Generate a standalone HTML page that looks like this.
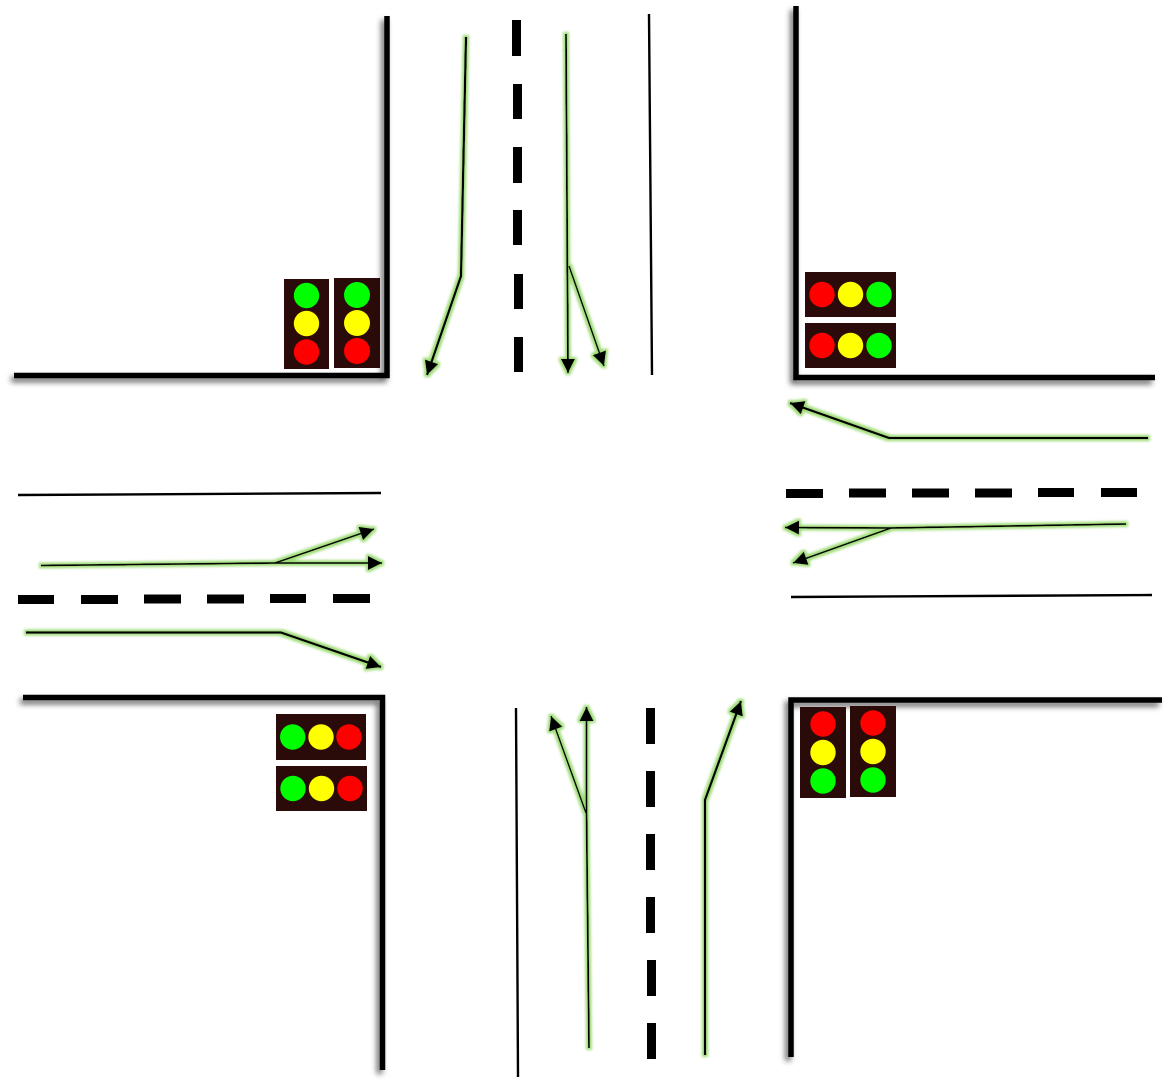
<!DOCTYPE html>
<html lang="en">
<head>
<meta charset="utf-8">
<title>Intersection traffic diagram</title>
<style>
html,body{margin:0;padding:0;background:#fff;width:1168px;height:1085px;overflow:hidden}
svg{display:block}
</style>
</head>
<body>
<svg xmlns="http://www.w3.org/2000/svg" width="1168" height="1085" viewBox="0 0 1168 1085">
<defs>
<filter id="glow" x="0" y="0" width="1168" height="1085" filterUnits="userSpaceOnUse" primitiveUnits="userSpaceOnUse">
  <feMorphology in="SourceAlpha" operator="dilate" radius="2" result="d"/>
  <feGaussianBlur in="d" stdDeviation="1.400" result="b"/>
  <feFlood flood-color="#9fdc78" result="c"/>
  <feComposite in="c" in2="b" operator="in" result="g"/>
  <feMerge><feMergeNode in="g"/><feMergeNode in="SourceGraphic"/></feMerge>
</filter>
<filter id="shadow" x="0" y="0" width="1168" height="1085" filterUnits="userSpaceOnUse" primitiveUnits="userSpaceOnUse">
  <feDropShadow dx="-3" dy="4" stdDeviation="3" flood-color="#000" flood-opacity="0.6"/>
</filter>
<marker id="head" markerUnits="userSpaceOnUse" markerWidth="16" markerHeight="16" refX="14" refY="7" orient="auto">
  <path d="M0 0 L14 7 L0 14 Z" fill="#000"/>
</marker>
</defs>

<rect width="1168" height="1085" fill="#fff"/>

<g fill="none" stroke="#000" stroke-width="5.500" filter="url(#shadow)">
  <path d="M14 375.500 H387 V16"/>
  <path d="M796 6 V377.500 H1155"/>
  <path d="M23 697.500 H382.500 V1070"/>
  <path d="M1162 700 H791 V1057"/>
</g>

<g stroke="#000" stroke-width="2.400">
  <line x1="649" y1="14" x2="652" y2="375"/>
  <line x1="18" y1="495" x2="381" y2="493"/>
  <line x1="791" y1="597" x2="1152" y2="595"/>
  <line x1="516" y1="708" x2="518" y2="1077"/>
</g>

<g fill="#000">
  <rect x="512" y="20" width="9" height="36"/>
  <rect x="513" y="84" width="9" height="35"/>
  <rect x="513" y="147" width="9" height="36"/>
  <rect x="513" y="210" width="9" height="35"/>
  <rect x="514" y="274" width="9" height="35"/>
  <rect x="514" y="337" width="9" height="35"/>
</g>
<g fill="#000">
  <rect x="646" y="708" width="9" height="36"/>
  <rect x="646" y="771" width="9" height="36"/>
  <rect x="646" y="834" width="9" height="36"/>
  <rect x="646" y="897" width="9" height="36"/>
  <rect x="647" y="960" width="9" height="36"/>
  <rect x="647" y="1023" width="9" height="36"/>
</g>
<g fill="#000">
  <rect x="18" y="595" width="36" height="9"/>
  <rect x="81" y="595" width="37" height="9"/>
  <rect x="144" y="594.500" width="37" height="9"/>
  <rect x="207" y="594.500" width="37" height="9"/>
  <rect x="270" y="594" width="36" height="9"/>
  <rect x="333" y="594" width="37" height="9"/>
</g>
<g fill="#000">
  <rect x="786" y="489" width="37" height="9"/>
  <rect x="849" y="488.500" width="37" height="9"/>
  <rect x="912" y="488.500" width="37" height="9"/>
  <rect x="975" y="488.500" width="37" height="9"/>
  <rect x="1038" y="488" width="36" height="9"/>
  <rect x="1101" y="488" width="36" height="9"/>
</g>

<g fill="none" stroke="#000" stroke-linejoin="miter">
  <g filter="url(#glow)">
    <path d="M466 37 L461 276 L427 375" stroke-width="2.300" marker-end="url(#head)"/>
  </g>
  <g filter="url(#glow)">
    <path d="M566 34 L568 373" stroke-width="1.800" marker-end="url(#head)"/>
    <path d="M569 266 L604 366" stroke-width="1.500" marker-end="url(#head)"/>
  </g>
  <g filter="url(#glow)">
    <path d="M1148 438 H889 L790 403" stroke-width="2.300" marker-end="url(#head)"/>
  </g>
  <g filter="url(#glow)">
    <path d="M1126 524 L890 528 L785 527.500" stroke-width="1.800" marker-end="url(#head)"/>
    <path d="M891 528 L793 563" stroke-width="1.500" marker-end="url(#head)"/>
  </g>
  <g filter="url(#glow)">
    <path d="M41 565.500 L275 563 H382" stroke-width="1.800" marker-end="url(#head)"/>
    <path d="M275 563 L374 529" stroke-width="1.500" marker-end="url(#head)"/>
  </g>
  <g filter="url(#glow)">
    <path d="M26 632.500 H281 L381 667" stroke-width="2.300" marker-end="url(#head)"/>
  </g>
  <g filter="url(#glow)">
    <path d="M589 1048 L586.500 812 V707" stroke-width="1.800" marker-end="url(#head)"/>
    <path d="M586 813 L551 716" stroke-width="1.500" marker-end="url(#head)"/>
  </g>
  <g filter="url(#glow)">
    <path d="M705 1055 V800 L741 701" stroke-width="2.300" marker-end="url(#head)"/>
  </g>
</g>

<g>
  <rect x="284" y="279" width="45" height="90" fill="#2b0a0a"/>
  <circle cx="306.500" cy="295.500" r="12.700" fill="#00ff00"/>
  <circle cx="306.500" cy="323.500" r="12.700" fill="#ffff00"/>
  <circle cx="306.500" cy="352" r="12.700" fill="#ff0000"/>
</g>
<g>
  <rect x="334" y="278" width="46" height="90" fill="#2b0a0a"/>
  <circle cx="357" cy="295" r="13" fill="#00ff00"/>
  <circle cx="357" cy="323" r="13" fill="#ffff00"/>
  <circle cx="357" cy="351" r="13" fill="#ff0000"/>
</g>
<g>
  <rect x="805" y="272" width="91" height="45" fill="#2b0a0a"/>
  <circle cx="822" cy="294.500" r="12.700" fill="#ff0000"/>
  <circle cx="850.500" cy="294.500" r="12.700" fill="#ffff00"/>
  <circle cx="879" cy="294.500" r="12.700" fill="#00ff00"/>
</g>
<g>
  <rect x="805" y="323" width="91" height="45" fill="#2b0a0a"/>
  <circle cx="822" cy="345.500" r="12.700" fill="#ff0000"/>
  <circle cx="850.500" cy="345.500" r="12.700" fill="#ffff00"/>
  <circle cx="879" cy="345.500" r="12.700" fill="#00ff00"/>
</g>
<g>
  <rect x="276" y="714" width="90" height="46" fill="#2b0a0a"/>
  <circle cx="292.700" cy="737" r="12.700" fill="#00ff00"/>
  <circle cx="321" cy="737" r="12.700" fill="#ffff00"/>
  <circle cx="349" cy="737" r="12.700" fill="#ff0000"/>
</g>
<g>
  <rect x="276" y="766" width="91" height="45" fill="#2b0a0a"/>
  <circle cx="293" cy="788.500" r="12.700" fill="#00ff00"/>
  <circle cx="321.500" cy="788.500" r="12.700" fill="#ffff00"/>
  <circle cx="350" cy="788.500" r="12.700" fill="#ff0000"/>
</g>
<g>
  <rect x="800" y="707" width="46" height="91" fill="#2b0a0a"/>
  <circle cx="823" cy="724" r="12.700" fill="#ff0000"/>
  <circle cx="823" cy="752.500" r="12.700" fill="#ffff00"/>
  <circle cx="823" cy="781" r="12.700" fill="#00ff00"/>
</g>
<g>
  <rect x="850" y="706" width="46" height="91" fill="#2b0a0a"/>
  <circle cx="873" cy="723" r="12.700" fill="#ff0000"/>
  <circle cx="873" cy="751.500" r="12.700" fill="#ffff00"/>
  <circle cx="873" cy="780" r="12.700" fill="#00ff00"/>
</g>
</svg>
</body>
</html>
